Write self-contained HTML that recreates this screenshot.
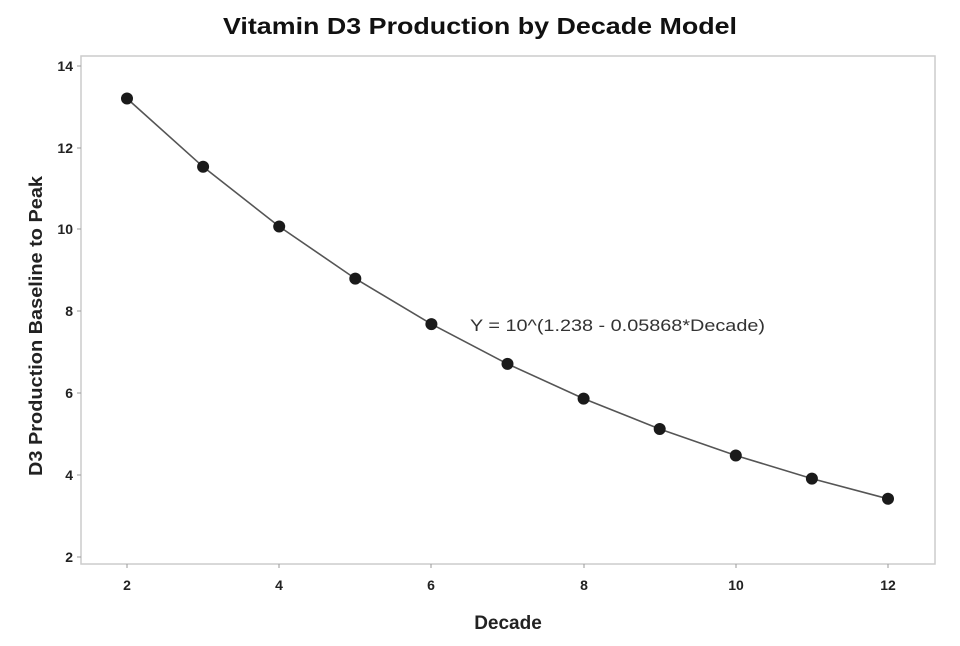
<!DOCTYPE html>
<html><head><meta charset="utf-8"><style>body{margin:0;background:#fff}</style></head>
<body>
<svg width="960" height="641" xmlns="http://www.w3.org/2000/svg" font-family="'Liberation Sans', sans-serif">
<rect width="960" height="641" fill="#fff"/>
<text x="480" y="34" text-anchor="middle" font-size="23" font-weight="bold" fill="#111" textLength="514" lengthAdjust="spacingAndGlyphs">Vitamin D3 Production by Decade Model</text>
<rect x="81" y="56" width="854" height="508" fill="none" stroke="#ccc" stroke-width="1.5"/>
<g stroke="#999" stroke-width="1">
<line x1="77" y1="66" x2="81" y2="66"/><line x1="77" y1="148" x2="81" y2="148"/><line x1="77" y1="229" x2="81" y2="229"/><line x1="77" y1="311" x2="81" y2="311"/><line x1="77" y1="393" x2="81" y2="393"/><line x1="77" y1="475" x2="81" y2="475"/><line x1="77" y1="557" x2="81" y2="557"/>
<line x1="127" y1="564" x2="127" y2="568"/><line x1="279" y1="564" x2="279" y2="568"/><line x1="431" y1="564" x2="431" y2="568"/><line x1="584" y1="564" x2="584" y2="568"/><line x1="736" y1="564" x2="736" y2="568"/><line x1="888" y1="564" x2="888" y2="568"/>
</g>
<g font-size="14" font-weight="bold" fill="#222" text-anchor="end">
<text x="73" y="71">14</text><text x="73" y="153">12</text><text x="73" y="234">10</text><text x="73" y="316">8</text><text x="73" y="398">6</text><text x="73" y="480">4</text><text x="73" y="562">2</text>
</g>
<g font-size="14" font-weight="bold" fill="#222" text-anchor="middle">
<text x="127" y="590">2</text><text x="279" y="590">4</text><text x="431" y="590">6</text><text x="584" y="590">8</text><text x="736" y="590">10</text><text x="888" y="590">12</text>
</g>
<text x="508" y="629" text-anchor="middle" font-size="19" font-weight="bold" fill="#222">Decade</text>
<text transform="translate(42,326) rotate(-90)" text-anchor="middle" font-size="18" font-weight="bold" fill="#222" textLength="300" lengthAdjust="spacingAndGlyphs">D3 Production Baseline to Peak</text>
<polyline fill="none" stroke="#555" stroke-width="1.6" points="127,98.5 203.1,166.8 279.2,226.5 355.3,278.6 431.4,324.1 507.5,363.9 583.6,398.6 659.7,429 735.8,455.5 811.9,478.6 888,498.8"/>
<g fill="#1a1a1a">
<circle cx="127" cy="98.5" r="6"/><circle cx="203.1" cy="166.8" r="6"/><circle cx="279.2" cy="226.5" r="6"/><circle cx="355.3" cy="278.6" r="6"/><circle cx="431.4" cy="324.1" r="6"/><circle cx="507.5" cy="363.9" r="6"/><circle cx="583.6" cy="398.6" r="6"/><circle cx="659.7" cy="429" r="6"/><circle cx="735.8" cy="455.5" r="6"/><circle cx="811.9" cy="478.6" r="6"/><circle cx="888" cy="498.8" r="6"/>
</g>
<text x="470" y="331" font-size="17" fill="#333" textLength="295" lengthAdjust="spacingAndGlyphs">Y = 10^(1.238 - 0.05868*Decade)</text>
</svg>
</body></html>
